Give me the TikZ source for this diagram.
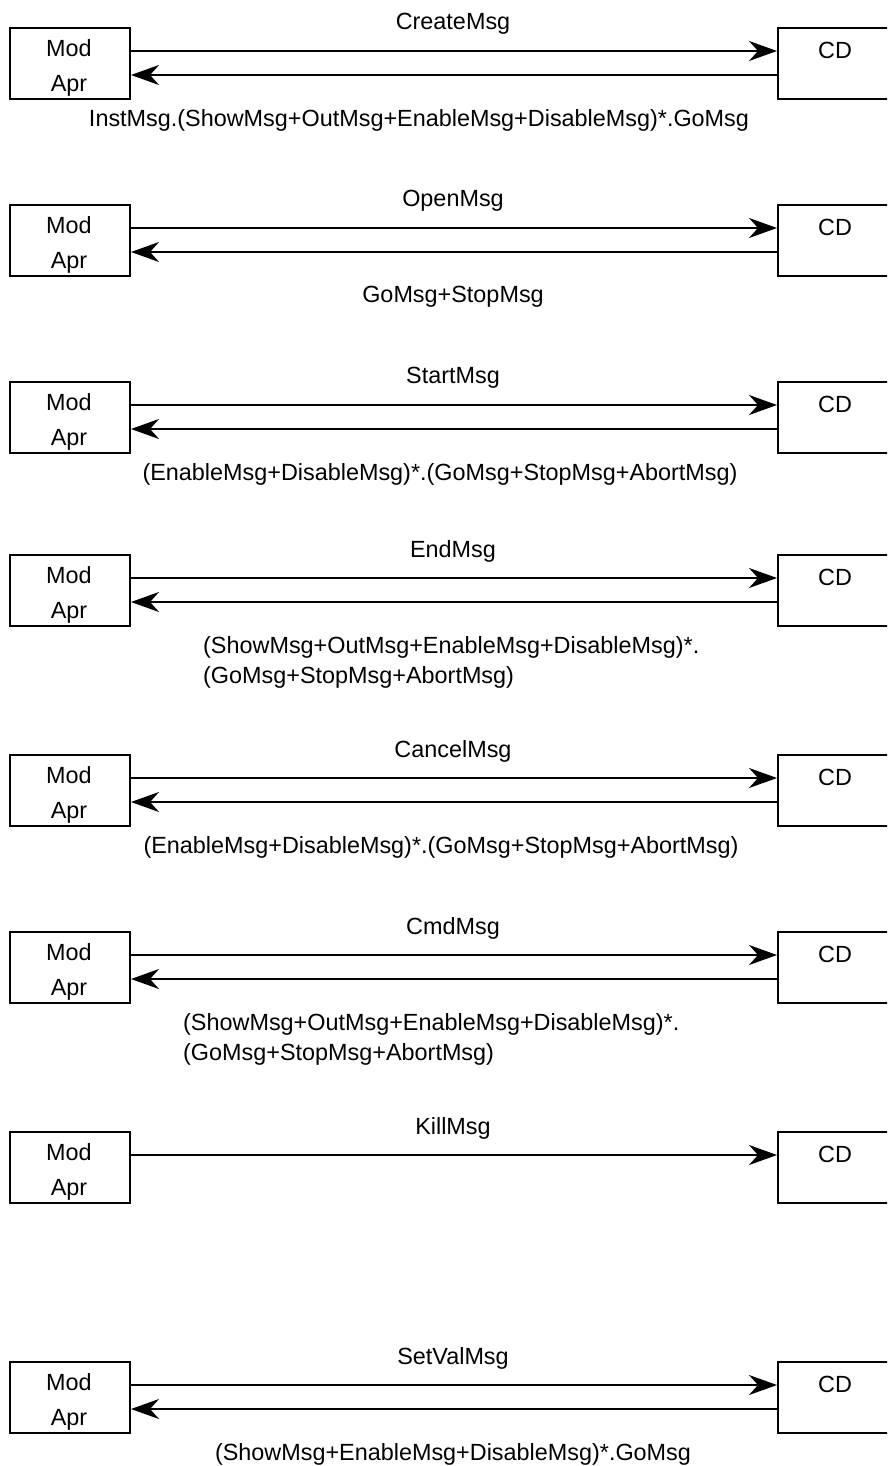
\documentclass[tikz,border=0pt]{standalone}
\usepackage{fontspec}
\setmainfont{Liberation Sans}
\usetikzlibrary{arrows.meta}
\begin{document}
\begin{tikzpicture}[x=1pt,y=-1pt,
  box/.style={draw,line width=2pt,minimum width=120pt,minimum height=71pt,inner sep=0pt,anchor=north west},
  lbl/.style={font=\fontsize{23.4}{30}\selectfont,inner sep=0pt},
  arr/.style={line width=2pt,-{Stealth[length=28pt,width=20pt,inset=9pt]}}]
\useasboundingbox (0,0) rectangle (887,1466);
\clip (0,0) rectangle (887,1466);
\foreach \i/\t/\lab/\two in {1/27/CreateMsg/1,2/204/OpenMsg/1,3/381/StartMsg/1,4/554/EndMsg/1,5/754/CancelMsg/1,6/931/CmdMsg/1,7/1131/KillMsg/0,8/1361/SetValMsg/1}{
  \node[box] (m\i) at (9,\t) {};
  \node[box] (c\i) at (777,\t) {};
  \node[lbl] (mt\i) at (69,\t+21) {Mod};
  \node[lbl] (ma\i) at (69,\t+59) {Apr};
  \node[lbl] (ct\i) at (835,\t+23) {CD};
  \node[lbl] (tl\i) at (453,\t-3) {\lab};
  \draw[arr] ([yshift=-24pt]m\i.north east) -- ([yshift=-24pt]c\i.north west);
  \ifnum\two=1
    \draw[arr] ([yshift=-48pt]c\i.north west) -- ([yshift=-48pt]m\i.north east);
  \fi
}
\node[lbl] (b1) at (419,120) {InstMsg.(ShowMsg+OutMsg+EnableMsg+DisableMsg)*.GoMsg};
\node[lbl] (b2) at (453,297) {GoMsg+StopMsg};
\node[lbl] (b3) at (440,474) {(EnableMsg+DisableMsg)*.(GoMsg+StopMsg+AbortMsg)};
\node[lbl,align=left,anchor=north west] (b4) at (203,636) {(ShowMsg+OutMsg+EnableMsg+DisableMsg)*.\\(GoMsg+StopMsg+AbortMsg)};
\node[lbl] (b5) at (441,847) {(EnableMsg+DisableMsg)*.(GoMsg+StopMsg+AbortMsg)};
\node[lbl,align=left,anchor=north west] (b6) at (183,1013) {(ShowMsg+OutMsg+EnableMsg+DisableMsg)*.\\(GoMsg+StopMsg+AbortMsg)};
\node[lbl] (b8) at (453,1454) {(ShowMsg+EnableMsg+DisableMsg)*.GoMsg};
\end{tikzpicture}
\end{document}
